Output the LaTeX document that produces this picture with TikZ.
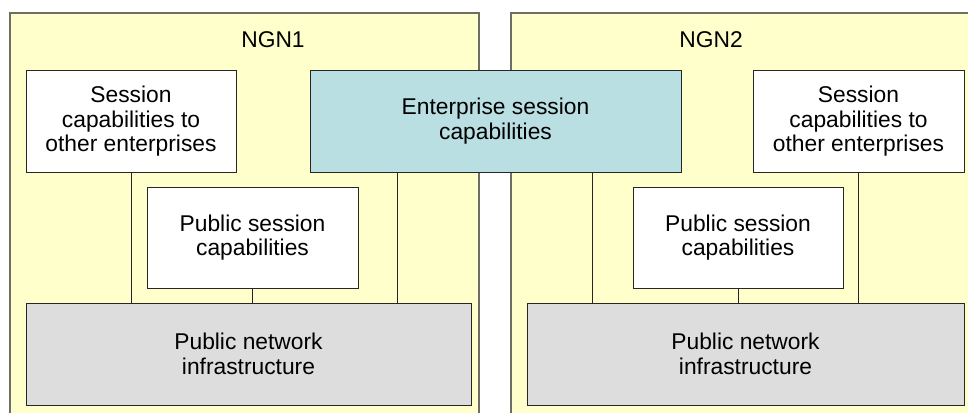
\documentclass[tikz,border=0pt]{standalone}
\usepackage{fontspec}
\setmainfont{Liberation Sans}
\usetikzlibrary{calc}
\definecolor{ngnfill}{RGB}{255, 255, 204}
\definecolor{entfill}{RGB}{185, 223, 226}
\definecolor{netfill}{RGB}{221, 221, 221}
\definecolor{ngnline}{RGB}{110, 110, 100}
\tikzset{
    every node/.style={font=\fontsize{22.8}{24.5}\selectfont},
    capbox/.style={draw=black!85, line width=1pt, fill=white, align=center,
        inner sep=0pt, minimum height=102pt},
    link/.style={draw=black!85, line width=1pt},
}

\begin{document}
\begin{tikzpicture}[x=1pt, y=-1pt]
        \clip (0, 0) rectangle (968, 412);
        \useasboundingbox (0, 0) rectangle (968, 412);
        % the two networks
        \draw[fill=ngnfill, draw=ngnline, line width=1.3pt] (10, 13) rectangle (479, 430);
        \draw[fill=ngnfill, draw=ngnline, line width=1.3pt] (511, 13) rectangle (990, 430);
        \node (ngn1) at (273, 40) {NGN1};
        \node (ngn2) at (711, 40) {NGN2};

        \node[capbox, minimum width=210pt] (sessA) at (131, 121.5)
            {Session\\capabilities to\\other enterprises};
        \node[capbox, minimum width=371pt, fill=entfill] (ent) at (495.5, 121)
            {Enterprise session\\capabilities};
        \node[capbox, minimum width=211pt] (sessB) at (858.5, 121.5)
            {Session\\capabilities to\\other enterprises};

        \node[capbox, minimum width=211pt, minimum height=101pt] (pubA)
            at (252.5, 237.5) {Public session\\capabilities};
        \node[capbox, minimum width=210pt, minimum height=101pt] (pubB)
            at (738, 237.5) {Public session\\capabilities};

        \node[capbox, minimum width=445pt, fill=netfill] (netA) at (248.5, 354)
            {Public network\\infrastructure};
        \node[capbox, minimum width=437pt, fill=netfill] (netB) at (745.5, 354)
            {Public network\\infrastructure};

        \coordinate (entA) at ($(ent.south west)!.237!(ent.south east)$);
        \coordinate (entB) at ($(ent.south west)!.76!(ent.south east)$);

        \draw[link] (sessA.south) -- (sessA.south |- netA.north);
        \draw[link] (pubA.south) -- (pubA.south |- netA.north);
        \draw[link] (entA) -- (entA |- netA.north);
        \draw[link] (entB) -- (entB |- netB.north);
        \draw[link] (pubB.south) -- (pubB.south |- netB.north);
        \draw[link] (sessB.south) -- (sessB.south |- netB.north);
    \end{tikzpicture}
\end{document}
